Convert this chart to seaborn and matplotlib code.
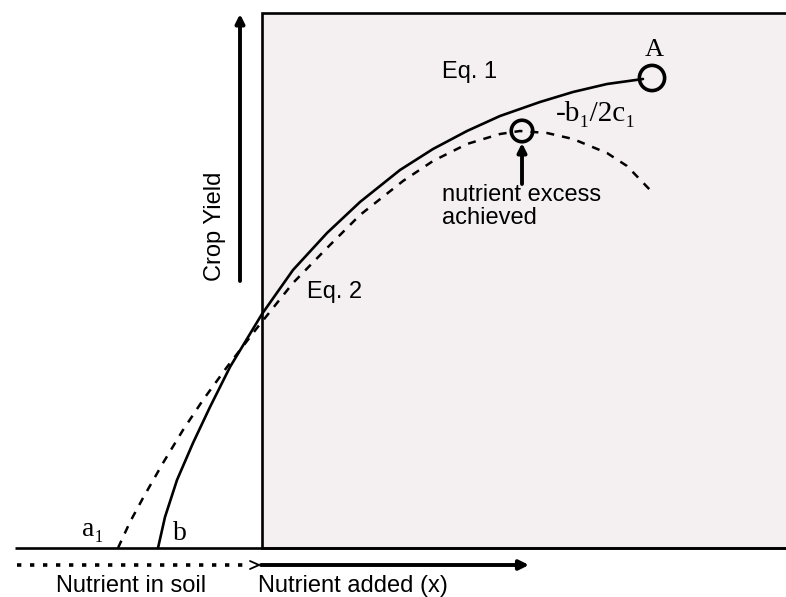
import matplotlib
matplotlib.use("Agg")
import matplotlib.pyplot as plt
from matplotlib.patches import Rectangle
import seaborn as sns
import pandas as pd

# Response curves, traced in drawing units (x to the right, y downward)
eq1_x = [158, 165, 177, 193, 210, 230, 262, 293, 327, 360, 400, 433, 467, 500, 540, 573, 607, 643]
eq1_y = [548, 517, 480, 443, 407, 367, 314, 270, 233, 202, 170, 149, 131, 116, 102, 92, 84, 79]

eq2_x = [118, 130, 143, 163, 183, 203, 227, 257, 265, 293, 327, 360, 403, 433, 467, 500, 520,
         547, 573, 607, 627, 653]
eq2_y = [548, 522, 498, 463, 430, 400, 367, 328, 318, 283, 248, 215, 181, 161, 144, 134, 131,
         133, 139, 153, 166, 193]

# Highlighted points: maximum yield (A) and the vertex of Eq. 2
marker_x = [652, 522]
marker_y = [78, 131]
marker_size = [330, 240]

labels_sans = ["Eq. 1", "Eq. 2", "nutrient excess\nachieved"]
labels_serif = ["A", "-b\u2081/2c\u2081", "a\u2081", "b"]
axis_texts = ["Crop Yield", "Nutrient in soil", "Nutrient added (x)"]

sns.set_theme(style="white")
plt.rcParams["font.family"] = ["Liberation Sans", "DejaVu Sans"]
plt.rcParams["text.color"] = "black"

W, H = 786, 597
fig = plt.figure(figsize=(W / 100, H / 100), dpi=100)
ax = fig.add_axes([0, 0, 1, 1])

# shaded region for added nutrient
ax.add_patch(Rectangle((262, 13), 600, 535, facecolor="#f4f0f1", edgecolor="black", lw=1.9, zorder=0))
# horizontal base line
ax.plot([15, W], [548, 548], color="black", lw=1.9, solid_capstyle="butt", zorder=1)

# curves
df1 = pd.DataFrame({"x": eq1_x, "y": eq1_y})
df2 = pd.DataFrame({"x": eq2_x, "y": eq2_y})
sns.lineplot(data=df1, x="x", y="y", ax=ax, color="black", lw=1.9, estimator=None, sort=False, zorder=3)
sns.lineplot(data=df2, x="x", y="y", ax=ax, color="black", lw=1.8, estimator=None, sort=False,
             linestyle=(0, (3.2, 3.2)), zorder=3)

# circle markers
dfm = pd.DataFrame({"x": marker_x, "y": marker_y, "s": marker_size})
sns.scatterplot(data=dfm, x="x", y="y", ax=ax, s=dfm["s"], facecolor="none", edgecolor="black",
                linewidth=2.6, marker="o", zorder=4, legend=False)

ax.set_xlim(0, W)
ax.set_ylim(H, 0)
ax.axis("off")

# arrow pointing at the vertex
ax.annotate("", xy=(522, 143), xytext=(522, 184),
            arrowprops=dict(arrowstyle="-|>", lw=2.8, color="black", mutation_scale=13,
                            shrinkA=0, shrinkB=0))

# yield axis arrow
ax.annotate("", xy=(240, 14), xytext=(240, 281),
            arrowprops=dict(arrowstyle="-|>", lw=2.8, color="black", mutation_scale=13,
                            shrinkA=0, shrinkB=0))

# nutrient arrows
ax.annotate("", xy=(529, 565), xytext=(261, 565),
            arrowprops=dict(arrowstyle="-|>", lw=2.8, color="black", mutation_scale=14,
                            shrinkA=0, shrinkB=0))
ax.plot([17, 248], [565, 565], color="black", lw=2.6, linestyle=(0, (1.2, 2.4)),
        dash_capstyle="butt")
ax.plot([250, 259, 250], [561, 565, 569], color="black", lw=1.3)

# text
fs = 17
ax.text(442, 78, labels_sans[0], fontsize=fs, ha="left", va="baseline")
ax.text(307, 298, labels_sans[1], fontsize=fs, ha="left", va="baseline")
ax.text(442, 224, labels_sans[2], fontsize=fs, ha="left", va="baseline", linespacing=1.06)

serif = ["Liberation Serif", "DejaVu Serif"]
ax.text(654, 56, labels_serif[0], fontsize=19, family=serif, ha="center", va="baseline")
ax.text(596, 121, labels_serif[1], fontsize=21, family=serif, ha="center", va="baseline")
ax.text(93, 536, labels_serif[2], fontsize=20, family=serif, ha="center", va="baseline")
ax.text(180, 540, labels_serif[3], fontsize=20, family=serif, ha="center", va="baseline")

ax.text(215, 226, axis_texts[0], fontsize=fs, rotation=90, ha="center", va="center")
ax.text(131, 592, axis_texts[1], fontsize=fs, ha="center", va="baseline")
ax.text(258, 592, axis_texts[2], fontsize=fs, ha="left", va="baseline")

fig.savefig("out.png", dpi=100, facecolor="white")
